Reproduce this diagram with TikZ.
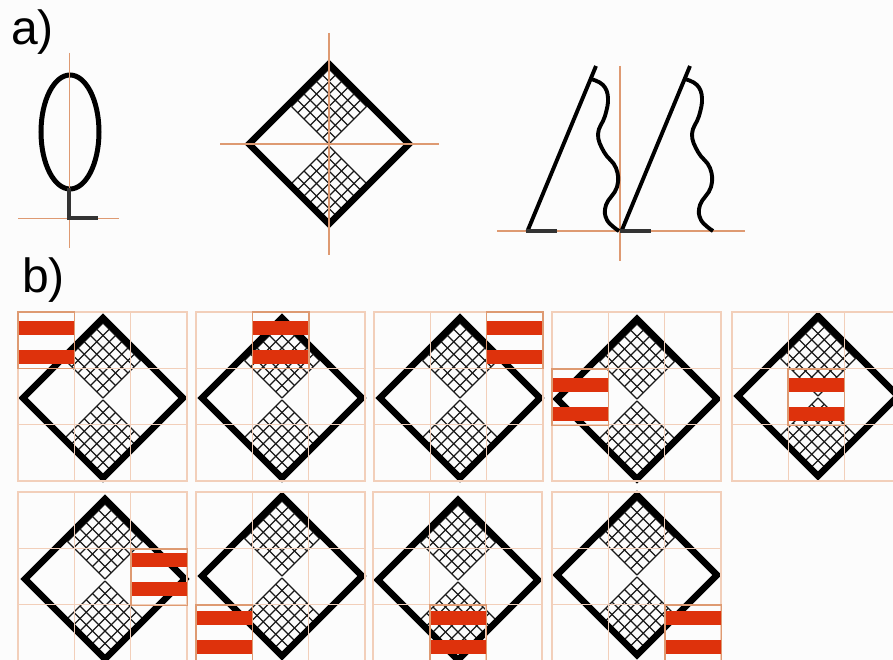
\documentclass[tikz,border=0pt]{standalone}
\usepackage{fontspec}
\setmainfont{Liberation Sans}
\usepackage{tikz}
\usetikzlibrary{calc,positioning}

\definecolor{axisline}{HTML}{DE9A72}
\definecolor{gridline}{HTML}{F2CFBA}
\definecolor{barred}{HTML}{DE320C}
\definecolor{paper}{HTML}{FCFCFC}

\tikzset{
	axisstroke/.style={draw=axisline, line width=1.3pt},
	cellgrid/.style={draw=gridline, line width=1.1pt},
	celledge/.style={draw=axisline, line width=1.3pt},
	rhombline/.style={draw=black, line width=6.4pt},
	hatchline/.style={draw=black!90, line width=1.25pt},
	contour/.style={draw=black, line width=5pt},
	wavestroke/.style={draw=black, line width=3.9pt},
	footline/.style={draw=black!80, line width=3.8pt},
	redbar/.style={fill=barred, draw=none},
	letter/.style={anchor=base west, inner sep=0pt, font=\fontsize{48}{48}\selectfont}
}

% one quarter of the cross hatching, corner at the origin
\newcommand{\hatchquarter}{
	\foreach \i in {0,...,6} {
		\draw[hatchline] ({\i*37.5/6},{-\i*37.5/6}) -- ++(-37.5,-37.5);
		\draw[hatchline] ({-\i*37.5/6},{-\i*37.5/6}) -- ++(37.5,-37.5);
	}
}

% diamond with two hatched squares
\newcommand{\rhomb}[2]{
	\begin{scope}[shift={(#1,#2)}]
		\hatchquarter
		\begin{scope}[yscale=-1, shift={(0,-2)}]
			\hatchquarter
		\end{scope}
		\draw[rhombline] (0,-80) -- (80,0) -- (0,80) -- (-80,0) -- cycle;
	\end{scope}
}

\begin{document}
\begin{tikzpicture}[x=1pt, y=-1pt]
	\path[use as bounding box, clip] (0,0) rectangle (893,660);
	\fill[paper] (0,0) rectangle (893,660);

	% Labels
	\node[letter] (a) at (11,45) {a)};
	\node[letter] (b) at (22,292) {b)};

	% Loop
	\draw[contour] (70,132) ellipse [x radius=29, y radius=57];
	\draw[axisstroke] (69.5,53) -- (69.5,248);
	\draw[axisstroke] (18,218.5) -- (119,218.5);
	\draw[footline] (69,188) -- (69,218) -- (98,218);

	% Single diamond
	\rhomb{329}{144}
	\draw[axisstroke] (329,33) -- (329,255);
	\draw[axisstroke] (220,144) -- (439,144);

	% Two wavy shapes
	\draw[axisstroke] (497,231) -- (745,231);
	\draw[axisstroke] (620,66) -- (620,261);
	\foreach \dx in {0,94} {
		\begin{scope}[shift={(\dx,0)}]
			\draw[wavestroke] (527.5,231) -- (596,66);
			\draw[wavestroke] plot[smooth, tension=0.7] coordinates {(591,79) (603,85) (608,98) (605,116) (598,134) (604,152) (616,168) (617,187) (606,205) (607,220) (619,231)};
			\draw[footline] (526,231) -- (557,231);
		\end{scope}
	}

	% Panels
	\foreach \px/\py/\cx/\cy/\rx/\ry/\by in {
			18/312/103/398/18/312/321,
			196/312/282/398/252.5/312/321,
			374/312/460/398/486.5/312/321,
			552/312/637/399/552/369/378,
			732/312/818/396/788/369/378,
			18/492/105/579/131/549/553,
			196/492/282/576/196/605/611,
			373/492/458/580/430/605/611,
			552/492/637/575/665/605/611} {
		\rhomb{\cx}{\cy}
		\draw[cellgrid] (\px,\py) rectangle ++(169,169);
		\foreach \k in {1,2} {
			\draw[cellgrid] ({\px+\k*56.4},\py) -- ++(0,169);
			\draw[cellgrid] (\px,{\py+\k*56.4}) -- ++(169,0);
		}
		\fill[redbar] (\rx,\by) rectangle ++(56.4,14);
		\fill[redbar] (\rx,\by+28.5) rectangle ++(56.4,14);
		\draw[celledge] (\rx,\ry) rectangle ++(56.4,56.4);
	}
\end{tikzpicture}
\end{document}
